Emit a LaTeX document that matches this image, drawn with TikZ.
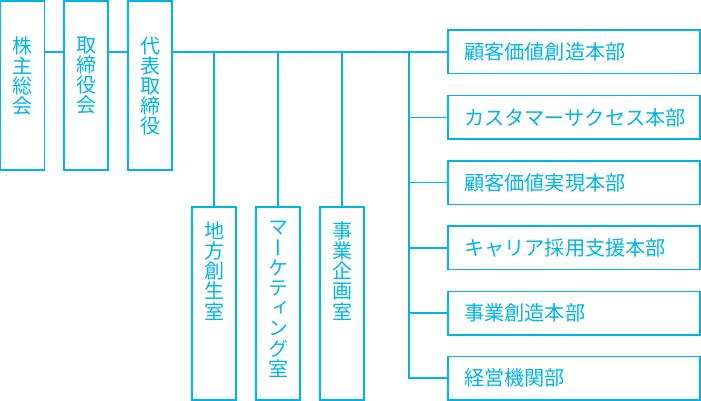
\documentclass[tikz,border=0pt]{standalone}
\usepackage{fontspec}
\setmainfont{Noto Sans CJK JP}
\newfontfamily\tatefont[RawFeature=+vert]{Noto Sans CJK JP}
\usetikzlibrary{positioning}
\definecolor{orgblue}{HTML}{00B4E6}

\begin{document}
\begin{tikzpicture}[x=1pt,y=-1pt,
  box/.style = {draw = orgblue, line width = 1.5pt, inner sep = 0pt},
  topbox/.style = {box, minimum width = 44pt, minimum height = 169pt},
  lowbox/.style = {box, minimum width = 44pt, minimum height = 193pt},
  bubox/.style = {box, minimum width = 252pt, minimum height = 43.5pt, text width = 220pt, align = left, text = orgblue, font = \fontsize{20.2}{21}\selectfont},
  tate/.style = {inner sep = 0pt, align = center, text = orgblue, font = \tatefont\fontsize{20}{20.2}\selectfont},
  link/.style = {draw = orgblue, line width = 1.5pt}]
\useasboundingbox (0,0) rectangle (701,401);

\node[topbox] (kabu) at (22.5,85.5) {};
\node[topbox] (torishimari) at (86,85.5) {};
\node[topbox] (daihyo) at (150,85.5) {};

\node[lowbox] (chiho) at (214,303.5) {};
\node[lowbox] (marketing) at (278,303.5) {};
\node[lowbox] (kikaku) at (342,303.5) {};

\node[tate, below = 36pt of kabu.north] {株\\主\\総\\会};
\node[tate, below = 36pt of torishimari.north] {取\\締\\役\\会};
\node[tate, below = 36pt of daihyo.north] {代\\表\\取\\締\\役};
\node[tate, below = 15pt of chiho.north] {地\\方\\創\\生\\室};
\node[tate, below = 15pt of marketing.north] {マ\\ー\\ケ\\テ\\ィ\\ン\\グ\\室};
\node[tate, below = 15pt of kikaku.north] {事\\業\\企\\画\\室};

\node[bubox] (b1) at (574,52) {顧客価値創造本部};
\node[bubox] (b2) at (574,117.5) {カスタマーサクセス本部};
\node[bubox] (b3) at (574,182.5) {顧客価値実現本部};
\node[bubox] (b4) at (574,247.8) {キャリア採用支援本部};
\node[bubox] (b5) at (574,313) {事業創造本部};
\node[bubox] (b6) at (574,378) {経営機関部};

\coordinate (hub) at (409,52);

% top row
\draw[link] (kabu.east |- hub) -- (torishimari.west |- hub);
\draw[link] (torishimari.east |- hub) -- (daihyo.west |- hub);
\draw[link] (daihyo.east |- hub) -- (b1.west);

% staff rooms
\foreach \room in {chiho,marketing,kikaku}
  \draw[link] (\room.north |- hub) -- (\room.north);

% divisions
\draw[link] (hub) -- (hub |- b6.west) -- (b6.west);
\foreach \bu in {b2,b3,b4,b5}
  \draw[link] (hub |- \bu.west) -- (\bu.west);
\end{tikzpicture}
\end{document}
